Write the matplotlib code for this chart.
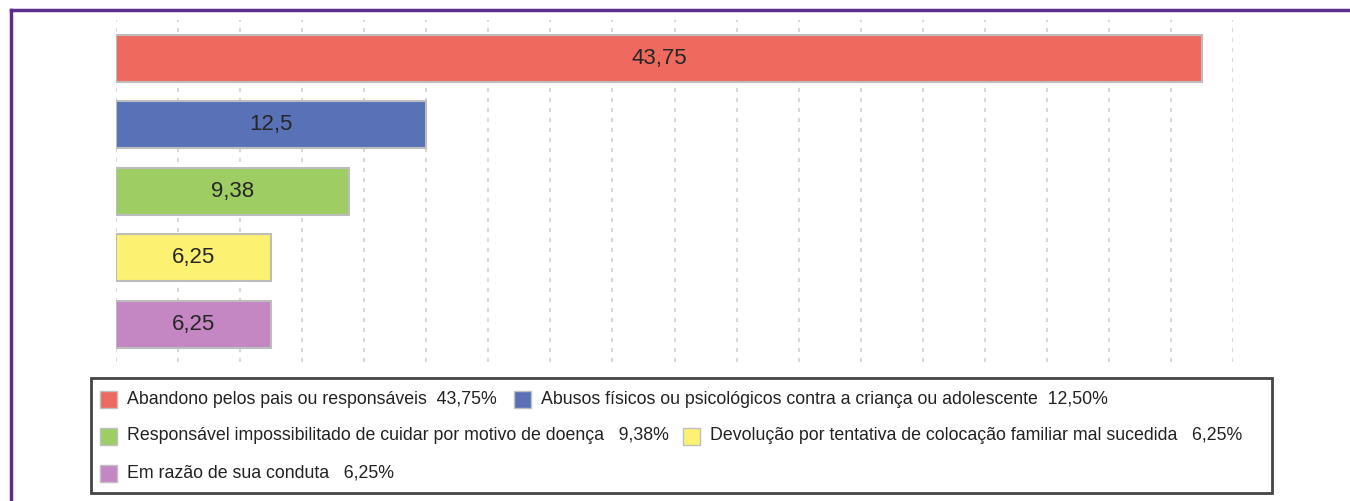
"""Horizontal bar chart - motivos de acolhimento (%)"""

import matplotlib.pyplot as plt
from matplotlib.patches import Rectangle
from matplotlib.lines import Line2D

plt.rcParams['font.family'] = ['Liberation Sans', 'DejaVu Sans']

# Data
categorias = ['Abandono pelos pais ou responsáveis',
              'Abusos físicos ou psicológicos contra a criança ou adolescente',
              'Responsável impossibilitado de cuidar por motivo de doença',
              'Devolução por tentativa de colocação familiar mal sucedida',
              'Em razão de sua conduta']
valores = [43.75, 12.5, 9.38, 6.25, 6.25]
cores = ['#EE6A5F', '#5971B6', '#9DCD63', '#FCF170', '#C487C3']
espacos = ['  ', '  ', '   ', '   ', '   ']

W, H = 1350, 501
fig = plt.figure(figsize=(W / 100, H / 100), dpi=100)

# Plot area (pixel coords -> figure fractions)
ax = fig.add_axes([116 / W, 1 - 362 / H, (1233 - 116) / W, (362 - 20) / H])
y = list(range(len(valores)))
bars = ax.barh(y, valores, height=0.71, color=cores, edgecolor='#bdbdbd',
               linewidth=1.5, zorder=3)
for b, v in zip(bars, valores):
    ax.text(b.get_width() / 2, b.get_y() + b.get_height() / 2,
            f"{v:g}".replace('.', ','), ha='center', va='center',
            fontsize=16, color='#262626', zorder=4)

ax.set_xlim(0, 45)
ax.set_ylim(len(valores) - 0.43, -0.58)
ax.set_xticks([i * 2.5 for i in range(19)])
ax.grid(axis='x', color='#d2d2d2', linestyle=(0, (2.5, 3.5)), linewidth=1.2, zorder=0)
ax.tick_params(length=0, labelbottom=False, labelleft=False)
for s in ax.spines.values():
    s.set_visible(False)

# Purple frame
fig.add_artist(Line2D([11 / W, 1], [1 - 10 / H, 1 - 10 / H], color='#5b2d8c',
                      linewidth=2.5, transform=fig.transFigure))
fig.add_artist(Line2D([11 / W, 11 / W], [0, 1 - 10 / H], color='#5b2d8c',
                      linewidth=2.5, transform=fig.transFigure))

# Legend box drawn by hand (flow layout as in the original)
fig.add_artist(Rectangle((91 / W, 1 - 493 / H), (1272 - 91) / W, (493 - 378) / H,
                         fill=False, edgecolor='#444444', linewidth=2,
                         transform=fig.transFigure))
posicoes = [(100, 399), (514, 399), (100, 436), (683, 436), (100, 473)]
for (px, py), nome, v, c, esp in zip(posicoes, categorias, valores, cores, espacos):
    fig.add_artist(Rectangle((px / W, 1 - (py + 8.5) / H), 17 / W, 17 / H,
                             facecolor=c, edgecolor='#c0c0c0', linewidth=1,
                             transform=fig.transFigure))
    fig.text((px + 27) / W, 1 - py / H,
             f"{nome}{esp}{v:.2f}%".replace('.', ','),
             ha='left', va='center', fontsize=12.8, color='#222222')

plt.savefig('out.png', dpi=100)
